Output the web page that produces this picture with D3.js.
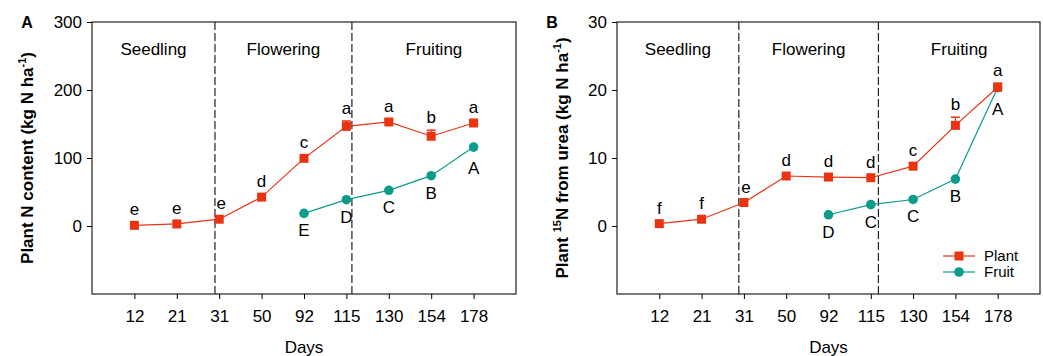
<!DOCTYPE html>
<html>
<head>
<meta charset="utf-8">
<script src="https://cdn.jsdelivr.net/npm/d3@7"></script>
<style>
  body { margin: 0; background: #fff; }
  text { font-family: "Liberation Sans", Arial, sans-serif; fill: #000; }
</style>
</head>
<body>
<svg id="chart" width="1043" height="356"></svg>
<script>
// days sampled (ordinal axis)
var days = ["12", "21", "31", "50", "92", "115", "130", "154", "178"];
var phases = ["Seedling", "Flowering", "Fruiting"];

// panel A: plant N content
var plantN = [1, 3, 10, 42.5, 99.5, 146.5, 153, 132, 151.5];
var plantNErr = [0, 0, 0, 0, 0, 8, 3, 9, 3.5];
var plantNLetters = ["e", "e", "e", "d", "c", "a", "a", "b", "a"];
var fruitN = [null, null, null, null, 18.5, 38.7, 52.5, 74, 116];
var fruitNLetters = [null, null, null, null, "E", "D", "C", "B", "A"];

// panel B: plant 15N from urea
var plant15 = [0.35, 1.0, 3.45, 7.35, 7.2, 7.1, 8.8, 14.8, 20.4];
var plant15Err = [0, 0, 0, 0, 0, 0, 0, 1.2, 0.6];
var plant15Letters = ["f", "f", "e", "d", "d", "d", "c", "b", "a"];
var fruit15 = [null, null, null, null, 1.65, 3.15, 3.9, 6.9, 20.35];
var fruit15Letters = [null, null, null, null, "D", "C", "C", "B", "A"];

var red = "#ea3411", teal = "#0b9c8c";
var svg = d3.select("#chart");

function panel(opt) {
  var g = svg.append("g");
  var x = d3.scaleLinear().domain([-1, days.length]).range([opt.left, opt.right]);
  var y = d3.scaleLinear().domain(opt.domain).range([294, 22]);

  // box
  g.append("rect").attr("x", opt.left).attr("y", 22)
    .attr("width", opt.right - opt.left).attr("height", 272)
    .attr("fill", "none").attr("stroke", "#222").attr("stroke-width", 1.2);

  var yAxis = d3.axisLeft(y).tickValues(opt.ticks).tickSize(5).tickPadding(5);
  g.append("g").attr("transform", "translate(" + opt.left + ",0)").call(yAxis)
    .call(function (a) { a.select(".domain").remove(); a.selectAll("text").style("font-size", "17px").style("font-family", "'Liberation Sans', Arial, sans-serif"); });

  var xAxis = d3.axisBottom(x).tickValues(d3.range(days.length))
    .tickFormat(function (i) { return days[i]; }).tickSize(5).tickPadding(11);
  g.append("g").attr("transform", "translate(0,294)").call(xAxis)
    .call(function (a) { a.select(".domain").remove(); a.selectAll("text").style("font-size", "17px").style("font-family", "'Liberation Sans', Arial, sans-serif"); });

  // phase separators
  opt.dividers.forEach(function (d) {
    g.append("line").attr("x1", x(d)).attr("x2", x(d)).attr("y1", 22).attr("y2", 294)
      .attr("stroke", "#222").attr("stroke-width", 1.2).attr("stroke-dasharray", "8,3");
  });
  var bounds = [-1].concat(opt.dividers).concat([days.length]);
  phases.forEach(function (p, i) {
    g.append("text").attr("x", x((bounds[i] + bounds[i + 1]) / 2)).attr("y", 55)
      .attr("text-anchor", "middle").style("font-size", "17px").text(p);
  });

  var line = d3.line().defined(function (d) { return d != null; })
    .x(function (d, i) { return x(i); }).y(function (d) { return y(d); });

  // fruit series
  g.append("path").datum(opt.fruit).attr("d", line).attr("fill", "none").attr("stroke", teal).attr("stroke-width", 1.2);
  // plant series
  g.append("path").datum(opt.plant).attr("d", line).attr("fill", "none").attr("stroke", red).attr("stroke-width", 1.2);

  // error bars (upper only)
  opt.plant.forEach(function (v, i) {
    if (!opt.err[i]) return;
    g.append("line").attr("x1", x(i)).attr("x2", x(i)).attr("y1", y(v)).attr("y2", y(v + opt.err[i]))
      .attr("stroke", red).attr("stroke-width", 1.2);
    g.append("line").attr("x1", x(i) - 4.5).attr("x2", x(i) + 4.5).attr("y1", y(v + opt.err[i])).attr("y2", y(v + opt.err[i]))
      .attr("stroke", red).attr("stroke-width", 1.5);
  });

  opt.fruit.forEach(function (v, i) {
    if (v == null) return;
    g.append("circle").attr("cx", x(i)).attr("cy", y(v)).attr("r", 4.8).attr("fill", teal);
    g.append("text").attr("x", x(i)).attr("y", y(v) + (i === days.length - 1 ? 27 : 23))
      .attr("text-anchor", "middle").style("font-size", "17px").text(opt.fruitLetters[i]);
  });
  opt.plant.forEach(function (v, i) {
    g.append("rect").attr("x", x(i) - 4.5).attr("y", y(v) - 4.5).attr("width", 9).attr("height", 9).attr("fill", red);
    var ly = Math.min(y(v) - 10, y(v + opt.err[i]) - 7);
    g.append("text").attr("x", x(i) + (i === 2 ? 2 : 0)).attr("y", ly)
      .attr("text-anchor", "middle").style("font-size", "17px").text(opt.plantLetters[i]);
  });

  // x title
  g.append("text").attr("x", (opt.left + opt.right) / 2).attr("y", 353)
    .attr("text-anchor", "middle").style("font-size", "17px").text("Days");

  // panel letter
  g.append("text").attr("x", opt.letterX).attr("y", 28).attr("text-anchor", "middle")
    .style("font-size", "16px").style("font-weight", "bold").text(opt.letter);

  // y title
  var t = g.append("text").attr("transform", "translate(" + opt.titleX + ",158) rotate(-90)")
    .attr("text-anchor", "middle").style("font-size", "17px").style("font-weight", "bold");
  opt.title(t);
  return { x: x, y: y, g: g };
}

panel({
  left: 92, right: 516, domain: [-100, 300], ticks: [0, 100, 200, 300], dividers: [1.9, 5.13],
  plant: plantN, err: plantNErr, plantLetters: plantNLetters,
  fruit: fruitN, fruitLetters: fruitNLetters, letter: "A", letterX: 27, titleX: 33,
  title: function (t) {
    t.append("tspan").text("Plant N content (kg N ha");
    t.append("tspan").attr("dy", -7).style("font-size", "11px").text("-1");
    t.append("tspan").attr("dy", 7).text(")");
  }
});

var pb = panel({
  left: 617, right: 1040, domain: [-10, 30], ticks: [0, 10, 20, 30], dividers: [1.88, 5.18],
  plant: plant15, err: plant15Err, plantLetters: plant15Letters,
  fruit: fruit15, fruitLetters: fruit15Letters, letter: "B", letterX: 552, titleX: 568,
  title: function (t) {
    t.append("tspan").text("Plant  ");
    t.append("tspan").attr("dy", -7).style("font-size", "11px").text("15");
    t.append("tspan").attr("dy", 7).text("N from urea (kg N ha");
    t.append("tspan").attr("dy", -7).style("font-size", "11px").text("-1");
    t.append("tspan").attr("dy", 7).text(")");
  }
});

// legend in panel B
var legend = pb.g.append("g");
[["Plant", red, "rect"], ["Fruit", teal, "circle"]].forEach(function (d, i) {
  var ly = 256 + i * 16;
  legend.append("line").attr("x1", 943).attr("x2", 975).attr("y1", ly).attr("y2", ly)
    .attr("stroke", d[1]).attr("stroke-width", 1.2);
  if (d[2] === "rect") {
    legend.append("rect").attr("x", 959 - 4.5).attr("y", ly - 4.5).attr("width", 9).attr("height", 9).attr("fill", d[1]);
  } else {
    legend.append("circle").attr("cx", 959).attr("cy", ly).attr("r", 4.8).attr("fill", d[1]);
  }
  legend.append("text").attr("x", 984).attr("y", ly + 5).style("font-size", "15px").text(d[0]);
});
</script>
</body>
</html>
